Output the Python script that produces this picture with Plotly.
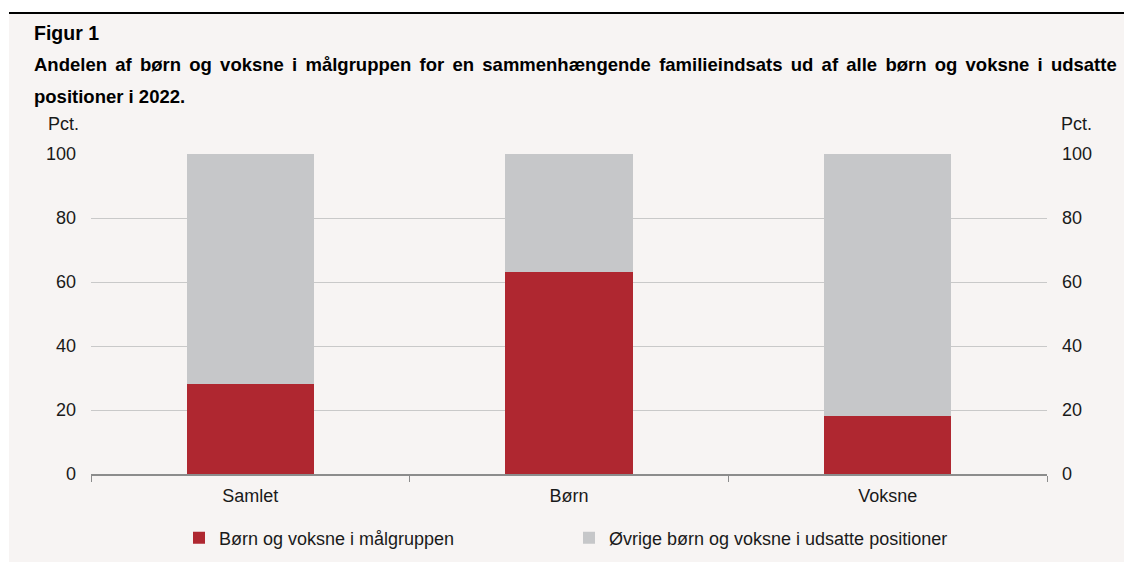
import plotly.graph_objects as go

categories = ["Samlet", "Børn", "Voksne"]
maalgruppe = [28, 63, 18]
oevrige = [72, 37, 82]
series_names = ["Børn og voksne i målgruppen", "Øvrige børn og voksne i udsatte positioner"]
yticks = [0, 20, 40, 60, 80, 100]

RED = "#AF2730"
GRAY = "#C6C7C9"
BG = "#F7F4F3"
FONT = "Liberation Sans, Arial, sans-serif"

OFF = 8  # default page body margin
W, H = 1132 - OFF, 562 - OFF
L = 91 - OFF
R = W - (1047 - OFF)
T = 154 - OFF
B = H - (474 - OFF)
PW, PH = W - L - R, H - T - B


def px(sx):
    return (sx - OFF - L) / PW


def py(sy):
    return (H - B - (sy - OFF)) / PH


fig = go.Figure()
fig.add_trace(go.Bar(x=categories, y=maalgruppe, name=series_names[0], marker_color=RED,
                     marker_line_width=0))
fig.add_trace(go.Bar(x=categories, y=oevrige, name=series_names[1], marker_color=GRAY,
                     marker_line_width=0))
fig.add_trace(go.Scatter(x=categories, y=maalgruppe, yaxis="y2", mode="markers",
                         marker_opacity=0, showlegend=False, hoverinfo="skip"))

fig.update_layout(
    width=W, height=H,
    margin=dict(l=L, r=R, t=T, b=B, pad=0, autoexpand=False),
    barmode="stack", bargap=0.6,
    paper_bgcolor=BG, plot_bgcolor=BG,
    font=dict(family=FONT, size=18, color="#1a1a1a"),
    xaxis=dict(type="category", range=[-0.5, 2.5], showline=True, linecolor="#8C8C8C",
               linewidth=1.5, ticks="outside", tickson="boundaries", ticklen=6,
               tickcolor="#8C8C8C", showgrid=False, tickfont=dict(size=18),
               ticklabelstandoff=5),
    yaxis=dict(range=[0, 100], tickvals=yticks, showgrid=True, gridcolor="#C9C9C9",
               gridwidth=1, zeroline=False, ticks="", ticklabelstandoff=14,
               tickfont=dict(size=18)),
    yaxis2=dict(range=[0, 100], tickvals=yticks, overlaying="y", side="right",
                showgrid=False, zeroline=False, ticks="", ticklabelstandoff=14,
                tickfont=dict(size=18)),
    legend=dict(orientation="h", x=0.5, xanchor="center", y=py(538), yanchor="middle",
                font=dict(size=18), bgcolor="rgba(0,0,0,0)", entrywidth=345,
                traceorder="normal", itemwidth=30),
    showlegend=True,
)

shapes = [
    dict(type="rect", xref="paper", yref="paper", x0=px(0), x1=px(1132), y0=py(12.5), y1=py(0),
         fillcolor="white", line_width=0, layer="below"),
    dict(type="rect", xref="paper", yref="paper", x0=px(0), x1=px(9), y0=py(562), y1=py(0),
         fillcolor="white", line_width=0, layer="below"),
    dict(type="line", xref="paper", yref="paper", x0=px(9), x1=px(1132), y0=py(13), y1=py(13),
         line=dict(color="black", width=2)),
]
fig.update_layout(shapes=shapes)

anns = [
    dict(text="<b>Figur 1</b>", x=px(32), y=py(33), size=19.5, width=None),
    dict(text="<b>Andelen af børn og voksne i målgruppen for en sammenhængende familieindsats ud af alle børn og voksne i udsatte</b>",
         x=px(32), y=py(64), size=18.5, width=1086),
    dict(text="<b>positioner i 2022.</b>", x=px(32), y=py(96), size=18.5, width=None),
]
for a in anns:
    fig.add_annotation(text=a["text"], x=a["x"], y=a["y"], xref="paper", yref="paper",
                       xanchor="left", yanchor="middle", showarrow=False, align="left",
                       width=a["width"],
                       font=dict(family=FONT, size=a["size"], color="black"))
fig.add_annotation(text="Pct.", x=px(63), y=py(124), xref="paper", yref="paper",
                   xanchor="center", yanchor="middle", showarrow=False, font=dict(size=18))
fig.add_annotation(text="Pct.", x=px(1076), y=py(124), xref="paper", yref="paper",
                   xanchor="center", yanchor="middle", showarrow=False, font=dict(size=18))

post = """
function wsFix(){
  document.querySelectorAll('text.annotation-text').forEach(function(t){
    if (t.textContent.indexOf('Andelen') === 0) { t.style.wordSpacing = '3.1px'; }
  });
}
wsFix(); setTimeout(wsFix, 50); setTimeout(wsFix, 300);
"""

fig.write_html("out.html", post_script=post)
